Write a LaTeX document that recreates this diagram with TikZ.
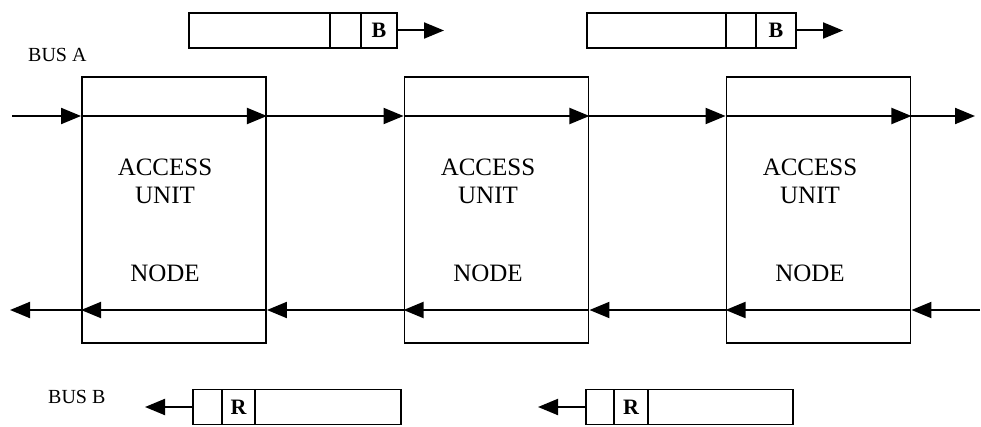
\documentclass[tikz,border=0pt]{standalone}
\usepackage{fontspec}
\setmainfont{Liberation Serif}
\usetikzlibrary{arrows.meta, positioning}
\tikzset{%
    unit box/.style={draw, line width=1.9pt, minimum width=184pt, minimum height=266pt, inner sep=0pt},
    unit text/.style={font=\fontsize{25}{28}\selectfont, anchor=base, inner sep=0pt},
    bus label/.style={font=\fontsize{20}{22}\selectfont, anchor=base west, inner sep=0pt},
    cell/.style={draw, line width=1.9pt, minimum height=35pt, inner sep=0pt, outer sep=0pt, font=\fontsize{22}{24}\selectfont\bfseries},
    bus/.style={line width=2pt, -{Triangle[length=20pt, width=16pt]}},
    slot/.style={line width=2pt, -{Triangle[length=20pt, width=16pt]}}
}

\begin{document}
\begin{tikzpicture}[x=1pt, y=-1pt]
    \useasboundingbox (0,0) rectangle (981,427);

    % access units
    \node[unit box] (au1) at (174,210) {};
    \node[unit box] (au2) at (496.5,210) {};
    \node[unit box] (au3) at (818.5,210) {};
    \node[unit text] (acc1) at (165,176) {ACCESS};
    \node[unit text] (unit1) at (165,204) {UNIT};
    \node[unit text] (node1) at (165,281) {NODE};
    \node[unit text] (acc2) at (488,176) {ACCESS};
    \node[unit text] (unit2) at (488,204) {UNIT};
    \node[unit text] (node2) at (488,281) {NODE};
    \node[unit text] (acc3) at (810,176) {ACCESS};
    \node[unit text] (unit3) at (810,204) {UNIT};
    \node[unit text] (node3) at (810,281) {NODE};

    \node[bus label] (labelA) at (28,62) {BUS A};
    \node[bus label] (labelB) at (48,403) {BUS B};

    % bus A, left to right
    \coordinate (busA) at (12,116);
    \coordinate (busA end) at (975,116);
    \draw[bus] (busA) -- (au1.west |- busA);
    \draw[bus] (au1.west |- busA) -- (au1.east |- busA);
    \draw[bus] (au1.east |- busA) -- (au2.west |- busA);
    \draw[bus] (au2.west |- busA) -- (au2.east |- busA);
    \draw[bus] (au2.east |- busA) -- (au3.west |- busA);
    \draw[bus] (au3.west |- busA) -- (au3.east |- busA);
    \draw[bus] (au3.east |- busA) -- (busA end);

    % bus B, right to left
    \coordinate (busB) at (980,310);
    \coordinate (busB end) at (10,310);
    \draw[bus] (busB) -- (au3.east |- busB);
    \draw[bus] (au3.east |- busB) -- (au3.west |- busB);
    \draw[bus] (au3.west |- busB) -- (au2.east |- busB);
    \draw[bus] (au2.east |- busB) -- (au2.west |- busB);
    \draw[bus] (au2.west |- busB) -- (au1.east |- busB);
    \draw[bus] (au1.east |- busB) -- (au1.west |- busB);
    \draw[bus] (au1.west |- busB) -- (busB end);

    % slots on bus A
    \node[cell, minimum width=141pt] (pa1) at (259.5,30.5) {};
    \node[cell, minimum width=31pt, right=0pt of pa1] (pa2) {};
    \node[cell, minimum width=36pt, right=0pt of pa2] (pa3) {B};
    \coordinate[right=47pt of pa3] (pa out);
    \draw[slot] (pa3) -- (pa out);

    \node[cell, minimum width=139pt] (pb1) at (656.5,30.5) {};
    \node[cell, minimum width=30pt, right=0pt of pb1] (pb2) {};
    \node[cell, minimum width=40pt, right=0pt of pb2] (pb3) {B};
    \coordinate[right=47pt of pb3] (pb out);
    \draw[slot] (pb3) -- (pb out);

    % slots on bus B
    \node[cell, minimum width=29pt] (pc1) at (207.5,407) {};
    \node[cell, minimum width=33pt, right=0pt of pc1] (pc2) {R};
    \node[cell, minimum width=146pt, right=0pt of pc2] (pc3) {};
    \coordinate[left=48pt of pc1] (pc out);
    \draw[slot] (pc1) -- (pc out);

    \node[cell, minimum width=28pt] (pd1) at (600,407) {};
    \node[cell, minimum width=34pt, right=0pt of pd1] (pd2) {R};
    \node[cell, minimum width=145pt, right=0pt of pd2] (pd3) {};
    \coordinate[left=48pt of pd1] (pd out);
    \draw[slot] (pd1) -- (pd out);
\end{tikzpicture}
\end{document}
